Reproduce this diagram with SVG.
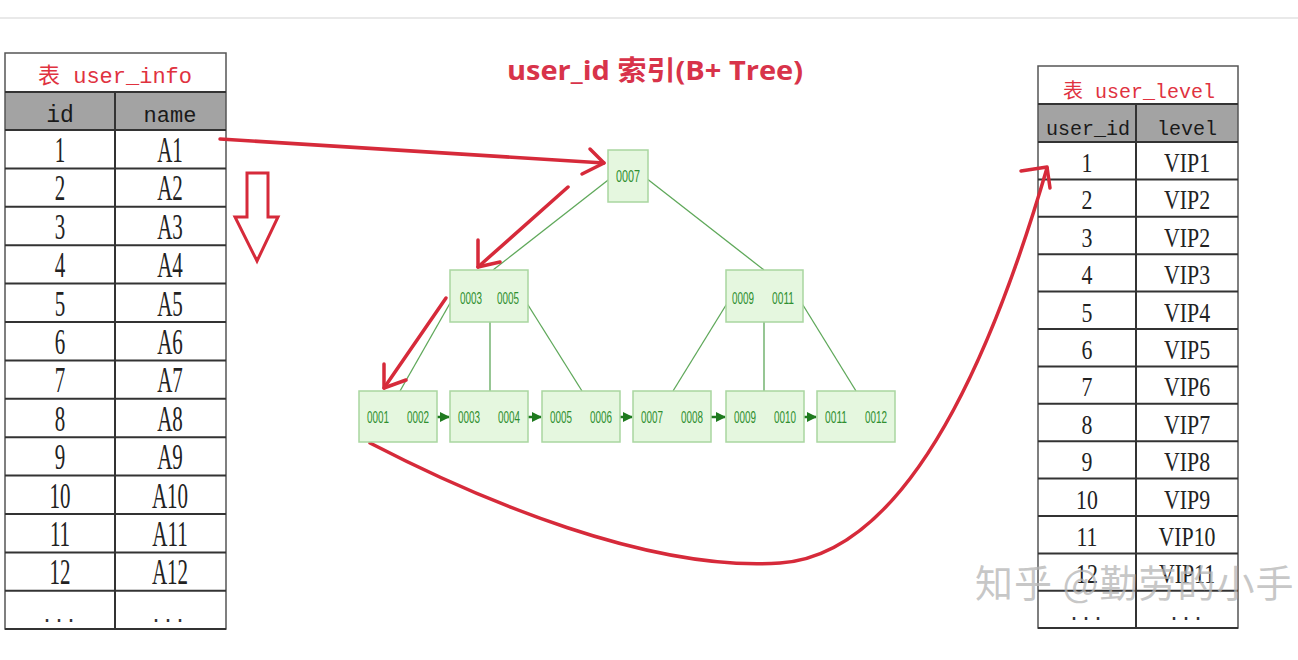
<svg xmlns="http://www.w3.org/2000/svg" width="1298" height="660" viewBox="0 0 1298 660">
<defs>
<style>
.bg{fill:#ffffff}
.ttl{font-family:"Liberation Mono","Noto Sans CJK SC",monospace;fill:#e0323f}
.hdr{font-family:"Liberation Mono",monospace;fill:#1a1a1a;text-anchor:middle}
.cell{font-family:"Liberation Serif",serif;fill:#222;text-anchor:middle}
.dots{font-family:"Liberation Mono",monospace;fill:#333;text-anchor:middle;font-size:20px}
.hfill{fill:#a3a3a3}
.grid{stroke:#333;stroke-width:2;fill:none}
.outer{stroke:#555;stroke-width:1.5;fill:none}
.node{fill:#e5f7df;stroke:#a9d6a0;stroke-width:1.5}
.key{font-family:"Liberation Sans",sans-serif;font-size:17px;fill:#2f8f2f;text-anchor:middle}
.tl{stroke:#5fa85a;stroke-width:1.3;fill:none}
.ll{stroke:#1f7a1f;stroke-width:2.5;fill:none}
.red{stroke:#d62a3a;stroke-width:3.5;fill:none;stroke-linecap:round;stroke-linejoin:round}
</style>
<marker id="gh" viewBox="0 0 10 10" refX="9" refY="5" markerWidth="4" markerHeight="4" orient="auto" markerUnits="strokeWidth">
<path d="M0,0 L10,5 L0,10 z" fill="#1f7a1f"/>
</marker>
</defs>
<rect class="bg" x="0" y="0" width="1298" height="660"/>
<line x1="0" y1="18" x2="1298" y2="18" stroke="#e2e2e2" stroke-width="1.5"/>

<text x="507" y="80" font-family="'Open Sans','Noto Sans CJK SC',sans-serif" font-weight="bold" font-size="27" fill="#d8334a" textLength="296" lengthAdjust="spacingAndGlyphs">user_id 索引(B+ Tree)</text>

<!-- Left table user_info -->
<g id="table-user-info">
<rect x="5" y="92" width="221" height="38" class="hfill"/>
<rect x="5" y="53" width="221" height="576" class="outer"/>
<g class="grid">
<line x1="5" y1="92" x2="226" y2="92"/>
<line x1="5" y1="130" x2="226" y2="130"/>
<line x1="5" y1="168.4" x2="226" y2="168.4"/>
<line x1="5" y1="206.8" x2="226" y2="206.8"/>
<line x1="5" y1="245.2" x2="226" y2="245.2"/>
<line x1="5" y1="283.6" x2="226" y2="283.6"/>
<line x1="5" y1="322" x2="226" y2="322"/>
<line x1="5" y1="360.4" x2="226" y2="360.4"/>
<line x1="5" y1="398.8" x2="226" y2="398.8"/>
<line x1="5" y1="437.2" x2="226" y2="437.2"/>
<line x1="5" y1="475.6" x2="226" y2="475.6"/>
<line x1="5" y1="514" x2="226" y2="514"/>
<line x1="5" y1="552.4" x2="226" y2="552.4"/>
<line x1="5" y1="590.8" x2="226" y2="590.8"/>
<line x1="5" y1="629" x2="226" y2="629"/>
<line x1="115" y1="92" x2="115" y2="629"/>
</g>
<text class="ttl" x="115" y="83" text-anchor="middle" font-size="22">表 user_info</text>
<text class="hdr" x="60" y="122" font-size="23">id</text>
<text class="hdr" x="170" y="122" font-size="22">name</text>
<g transform="translate(60 0) scale(0.6 1)" class="cell" font-size="35">
<text x="0" y="162">1</text><text x="0" y="200.4">2</text><text x="0" y="238.8">3</text><text x="0" y="277.2">4</text>
<text x="0" y="315.6">5</text><text x="0" y="354">6</text><text x="0" y="392.4">7</text><text x="0" y="430.8">8</text>
<text x="0" y="469.2">9</text><text x="0" y="507.6">10</text><text x="0" y="546">11</text><text x="0" y="584.4">12</text>
</g>
<g transform="translate(170 0) scale(0.6 1)" class="cell" font-size="35">
<text x="0" y="162">A1</text><text x="0" y="200.4">A2</text><text x="0" y="238.8">A3</text><text x="0" y="277.2">A4</text>
<text x="0" y="315.6">A5</text><text x="0" y="354">A6</text><text x="0" y="392.4">A7</text><text x="0" y="430.8">A8</text>
<text x="0" y="469.2">A9</text><text x="0" y="507.6">A10</text><text x="0" y="546">A11</text><text x="0" y="584.4">A12</text>
</g>
<text class="dots" x="59" y="622">...</text>
<text class="dots" x="168" y="622">...</text>
</g>

<!-- Right table user_level -->
<g id="table-user-level">
<rect x="1038" y="104" width="200" height="38" class="hfill"/>
<rect x="1038" y="66" width="200" height="562" class="outer"/>
<g class="grid">
<line x1="1038" y1="104" x2="1238" y2="104"/>
<line x1="1038" y1="142" x2="1238" y2="142"/>
<line x1="1038" y1="179.4" x2="1238" y2="179.4"/>
<line x1="1038" y1="216.8" x2="1238" y2="216.8"/>
<line x1="1038" y1="254.2" x2="1238" y2="254.2"/>
<line x1="1038" y1="291.6" x2="1238" y2="291.6"/>
<line x1="1038" y1="329" x2="1238" y2="329"/>
<line x1="1038" y1="366.4" x2="1238" y2="366.4"/>
<line x1="1038" y1="403.8" x2="1238" y2="403.8"/>
<line x1="1038" y1="441.2" x2="1238" y2="441.2"/>
<line x1="1038" y1="478.6" x2="1238" y2="478.6"/>
<line x1="1038" y1="516" x2="1238" y2="516"/>
<line x1="1038" y1="553.4" x2="1238" y2="553.4"/>
<line x1="1038" y1="590.8" x2="1238" y2="590.8"/>
<line x1="1038" y1="628" x2="1238" y2="628"/>
<line x1="1136" y1="104" x2="1136" y2="628"/>
</g>
<text class="ttl" x="1139" y="98" text-anchor="middle" font-size="20">表 user_level</text>
<text class="hdr" x="1088" y="135" font-size="20">user_id</text>
<text class="hdr" x="1187" y="135" font-size="20">level</text>
<g transform="translate(1087 0) scale(0.78 1)" class="cell" font-size="28">
<text x="0" y="172">1</text><text x="0" y="209.4">2</text><text x="0" y="246.8">3</text><text x="0" y="284.2">4</text>
<text x="0" y="321.6">5</text><text x="0" y="359">6</text><text x="0" y="396.4">7</text><text x="0" y="433.8">8</text>
<text x="0" y="471.2">9</text><text x="0" y="508.6">10</text><text x="0" y="546">11</text><text x="0" y="583.4">12</text>
</g>
<g transform="translate(1187 0) scale(0.78 1)" class="cell" font-size="28">
<text x="0" y="172">VIP1</text><text x="0" y="209.4">VIP2</text><text x="0" y="246.8">VIP2</text><text x="0" y="284.2">VIP3</text>
<text x="0" y="321.6">VIP4</text><text x="0" y="359">VIP5</text><text x="0" y="396.4">VIP6</text><text x="0" y="433.8">VIP7</text>
<text x="0" y="471.2">VIP8</text><text x="0" y="508.6">VIP9</text><text x="0" y="546">VIP10</text><text x="0" y="583.4">VIP11</text>
</g>
<text class="dots" x="1086" y="620">...</text>
<text class="dots" x="1186" y="620">...</text>
</g>

<!-- B+ tree connectors -->
<g id="connectors">
<line class="tl" x1="612" y1="177" x2="493" y2="270"/>
<line class="tl" x1="646" y1="178" x2="764" y2="270"/>
<line class="tl" x1="453" y1="298" x2="400" y2="391"/>
<line class="tl" x1="490" y1="300" x2="490" y2="391"/>
<line class="tl" x1="523" y1="297" x2="582" y2="391"/>
<line class="tl" x1="731" y1="297" x2="673" y2="391"/>
<line class="tl" x1="764" y1="300" x2="764" y2="391"/>
<line class="tl" x1="798" y1="297" x2="856" y2="391"/>
<line class="ll" x1="432" y1="417" x2="449" y2="417" marker-end="url(#gh)"/>
<line class="ll" x1="523" y1="417" x2="541" y2="417" marker-end="url(#gh)"/>
<line class="ll" x1="615" y1="417" x2="632" y2="417" marker-end="url(#gh)"/>
<line class="ll" x1="706" y1="417" x2="725" y2="417" marker-end="url(#gh)"/>
<line class="ll" x1="799" y1="417" x2="816" y2="417" marker-end="url(#gh)"/>
<!-- red annotation arrows -->
<path class="red" d="M220,139 L604,163"/>
<polyline class="red" points="582,174 604,163 590,149"/>
<path class="red" d="M568,187 L478,267"/>
<polyline class="red" points="478,240 478,267 500,262"/>
<path class="red" d="M446,298 L384,388"/>
<polyline class="red" points="384,364 384,388 406,380"/>
<path class="red" d="M370,443 C480,500 650,572 780,563 C900,555 985,380 1047,168"/>
<polyline class="red" points="1021,171 1047,167 1050,188"/>
<path d="M247,173 H268 V217 H278 L257,261 L235,217 H247 Z" fill="none" stroke="#d62a3a" stroke-width="3" stroke-linejoin="miter"/>
</g>

<!-- B+ tree nodes -->
<g id="node-root">
<rect class="node" x="608" y="150" width="40" height="52"/>
<text class="key" x="628" y="182" textLength="24" lengthAdjust="spacingAndGlyphs">0007</text>
</g>
<g id="node-inner-left">
<rect class="node" x="450" y="270" width="78" height="52"/>
<text class="key" x="471" y="304" textLength="22" lengthAdjust="spacingAndGlyphs">0003</text>
<text class="key" x="508" y="304" textLength="22" lengthAdjust="spacingAndGlyphs">0005</text>
</g>
<g id="node-inner-right">
<rect class="node" x="726" y="270" width="77" height="52"/>
<text class="key" x="743" y="304" textLength="22" lengthAdjust="spacingAndGlyphs">0009</text>
<text class="key" x="783" y="304" textLength="22" lengthAdjust="spacingAndGlyphs">0011</text>
</g>
<g id="leaf-1">
<rect class="node" x="359" y="391" width="78" height="51"/>
<text class="key" x="378" y="423" textLength="22" lengthAdjust="spacingAndGlyphs">0001</text>
<text class="key" x="418" y="423" textLength="22" lengthAdjust="spacingAndGlyphs">0002</text>
</g>
<g id="leaf-2">
<rect class="node" x="450" y="391" width="78" height="51"/>
<text class="key" x="469" y="423" textLength="22" lengthAdjust="spacingAndGlyphs">0003</text>
<text class="key" x="509" y="423" textLength="22" lengthAdjust="spacingAndGlyphs">0004</text>
</g>
<g id="leaf-3">
<rect class="node" x="542" y="391" width="78" height="51"/>
<text class="key" x="561" y="423" textLength="22" lengthAdjust="spacingAndGlyphs">0005</text>
<text class="key" x="601" y="423" textLength="22" lengthAdjust="spacingAndGlyphs">0006</text>
</g>
<g id="leaf-4">
<rect class="node" x="633" y="391" width="78" height="51"/>
<text class="key" x="652" y="423" textLength="22" lengthAdjust="spacingAndGlyphs">0007</text>
<text class="key" x="692" y="423" textLength="22" lengthAdjust="spacingAndGlyphs">0008</text>
</g>
<g id="leaf-5">
<rect class="node" x="726" y="391" width="78" height="51"/>
<text class="key" x="745" y="423" textLength="22" lengthAdjust="spacingAndGlyphs">0009</text>
<text class="key" x="785" y="423" textLength="22" lengthAdjust="spacingAndGlyphs">0010</text>
</g>
<g id="leaf-6">
<rect class="node" x="817" y="391" width="78" height="51"/>
<text class="key" x="836" y="423" textLength="22" lengthAdjust="spacingAndGlyphs">0011</text>
<text class="key" x="876" y="423" textLength="22" lengthAdjust="spacingAndGlyphs">0012</text>
</g>

<text x="975" y="597" font-family="'Noto Sans CJK SC',sans-serif" font-size="38" fill="#b5b5b5" fill-opacity="0.75" letter-spacing="1">知乎 @勤劳的小手</text>
</svg>
